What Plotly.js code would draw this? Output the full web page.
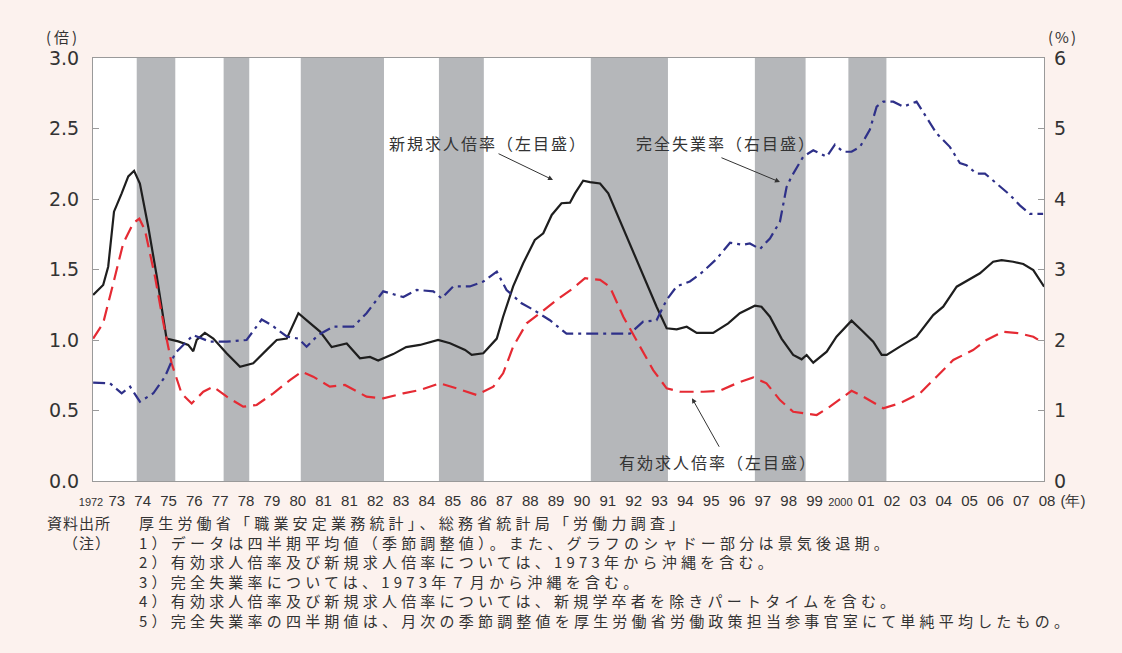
<!DOCTYPE html>
<html><head><meta charset="utf-8">
<script src="https://cdn.plot.ly/plotly-3.0.1.min.js"></script>
<style>html,body{margin:0;padding:0;background:#fcf2ee;}#chart{width:1122px;height:653px;}</style>
</head><body><div id="chart"></div>
<script>
// 新規求人倍率（左目盛）
const newT = [1972.13,1972.51,1972.70,1972.92,1973.21,1973.46,1973.68,1973.90,1974.22,1974.54,1974.91,1975.35,1975.73,1975.92,1976.05,1976.36,1976.68,1977.19,1977.69,1978.19,1978.70,1979.08,1979.46,1979.90,1980.34,1980.72,1981.16,1981.73,1982.23,1982.61,1982.92,1983.49,1983.98,1984.50,1985.19,1985.64,1986.21,1986.46,1986.90,1987.41,1987.65,1988.03,1988.41,1988.85,1989.17,1989.49,1989.86,1990.18,1990.37,1990.68,1990.94,1991.32,1991.63,1992.01,1992.58,1993.08,1993.46,1993.84,1994.22,1994.60,1994.98,1995.60,1996.17,1996.61,1997.18,1997.43,1997.75,1998.19,1998.63,1998.95,1999.14,1999.39,1999.90,2000.27,2000.84,2001.28,2001.66,2001.98,2002.17,2002.67,2003.30,2003.93,2004.31,2004.82,2005.26,2005.70,2006.20,2006.52,2006.96,2007.34,2007.72,2008.13];
const newV = [1.32,1.39,1.52,1.91,2.04,2.16,2.20,2.11,1.80,1.45,1.01,0.99,0.965,0.92,1.00,1.05,1.01,0.905,0.81,0.835,0.93,1.00,1.01,1.19,1.12,1.06,0.95,0.975,0.87,0.88,0.855,0.90,0.95,0.965,1.00,0.977,0.93,0.894,0.906,1.01,1.165,1.38,1.544,1.71,1.757,1.887,1.97,1.974,2.04,2.13,2.12,2.11,2.04,1.874,1.615,1.40,1.236,1.083,1.076,1.094,1.05,1.05,1.118,1.19,1.243,1.236,1.165,1.01,0.894,0.863,0.894,0.839,0.917,1.023,1.137,1.059,0.988,0.894,0.894,0.953,1.023,1.177,1.236,1.378,1.426,1.473,1.555,1.567,1.555,1.539,1.496,1.378];

// 有効求人倍率（左目盛）
const effT = [1972.13,1972.51,1972.89,1973.27,1973.65,1973.88,1974.09,1974.47,1974.79,1975.10,1975.48,1975.86,1976.30,1976.68,1977.19,1977.81,1978.32,1978.95,1979.58,1980.02,1980.46,1981.09,1981.66,1982.48,1983.11,1983.87,1984.50,1985.26,1985.89,1986.65,1987.28,1987.65,1988.03,1988.54,1989.04,1989.68,1990.30,1990.75,1991.32,1991.69,1992.20,1992.70,1993.33,1993.84,1994.35,1995.23,1995.86,1996.49,1997.12,1997.62,1998.13,1998.63,1999.52,2000.02,2000.84,2001.28,2002.04,2002.67,2003.43,2004.06,2004.69,2005.44,2005.95,2006.58,2007.21,2007.72,2008.13];
const effV = [1.01,1.12,1.40,1.686,1.83,1.86,1.78,1.45,1.12,0.835,0.62,0.55,0.633,0.669,0.598,0.527,0.539,0.622,0.716,0.775,0.74,0.669,0.681,0.598,0.586,0.622,0.645,0.693,0.657,0.61,0.669,0.764,0.953,1.118,1.19,1.284,1.367,1.438,1.426,1.378,1.165,1.0,0.787,0.657,0.633,0.633,0.64,0.693,0.735,0.693,0.574,0.491,0.468,0.527,0.64,0.598,0.516,0.551,0.622,0.74,0.858,0.929,1.0,1.059,1.047,1.023,0.977];

// 完全失業率（右目盛, %）
const unT = [1972.13,1972.77,1973.21,1973.53,1973.90,1974.41,1974.85,1975.23,1975.61,1975.92,1976.55,1977.19,1977.94,1978.51,1978.89,1979.46,1979.90,1980.21,1980.65,1981.22,1981.98,1982.48,1983.11,1983.87,1984.38,1985.01,1985.32,1985.76,1986.39,1986.90,1987.41,1987.78,1988.35,1988.79,1989.42,1990.05,1990.94,1992.45,1992.95,1993.46,1993.84,1994.22,1994.72,1995.22,1995.73,1996.24,1996.74,1996.99,1997.37,1997.75,1998.13,1998.38,1998.57,1999.01,1999.39,1999.90,2000.21,2000.52,2000.84,2001.16,2001.53,2001.79,2002.04,2002.42,2002.80,2003.30,2003.74,2004.06,2004.56,2004.94,2005.19,2005.57,2005.89,2006.33,2006.83,2007.21,2007.59,2008.09];
const unV = [1.394,1.386,1.244,1.338,1.125,1.244,1.48,1.81,1.953,2.07,1.976,1.976,2.0,2.29,2.21,2.05,2.02,1.905,2.07,2.19,2.19,2.38,2.69,2.61,2.71,2.69,2.59,2.76,2.76,2.83,2.97,2.71,2.52,2.43,2.28,2.09,2.09,2.09,2.26,2.28,2.57,2.76,2.83,2.97,3.15,3.38,3.35,3.37,3.29,3.44,3.68,4.17,4.32,4.6,4.69,4.6,4.77,4.67,4.67,4.74,4.98,5.31,5.38,5.38,5.31,5.38,5.12,4.93,4.74,4.51,4.48,4.36,4.36,4.22,4.06,3.91,3.79,3.79];

// 景気後退期（シャドー）
const recStart = [1973.78,1977.07,1979.99,1985.22,1990.97,1997.18,2000.72];
const recEnd   = [1975.24,1978.04,1983.14,1986.92,1993.89,1999.10,2002.16];

const xLabels = ['1972','73','74','75','76','77','78','79','80','81','81','82','83','84','85','86','87','88','89','90','91','92','93','94','95','96','97','98','99','2000','01','02','03','04','05','06','07','08','(年)'];
const yLeftTicks = [0,0.5,1,1.5,2,2.5,3];
const yRightTicks = [0,1,2,3,4,5,6];

const noteHead = ['資料出所','（注）'];
const notes = [
 '厚生労働省「職業安定業務統計」、総務省統計局「労働力調査」',
 '1）データは四半期平均値（季節調整値）。また、グラフのシャドー部分は景気後退期。',
 '2）有効求人倍率及び新規求人倍率については、1973年から沖縄を含む。',
 '3）完全失業率については、1973年７月から沖縄を含む。',
 '4）有効求人倍率及び新規求人倍率については、新規学卒者を除きパートタイムを含む。',
 '5）完全失業率の四半期値は、月次の季節調整値を厚生労働省労働政策担当参事官室にて単純平均したもの。'
];

// ---- layout geometry (pixels) ----
const W = 1122, H = 653, L = 93, R = 1044, T = 58, B = 481;
const labStart = 91, labStep = 25.84;
const px = v => v / W, py = v => 1 - v / H;
const CJK = '"Noto Sans CJK JP", "Noto Sans", sans-serif';
const NUM = '"DejaVu Sans", "Liberation Sans", sans-serif';
const NUMX = '"Liberation Sans", Arial, sans-serif';
const txtCol = '#333333';

const traces = [
 {x:newT, y:newV, mode:'lines', line:{color:'#1e1e1e', width:2.2}, hoverinfo:'skip'},
 {x:effT, y:effV, mode:'lines', line:{color:'#e52a33', width:2.2, dash:'14px,7px'}, hoverinfo:'skip'},
 {x:unT, y:unV, yaxis:'y2', mode:'lines', line:{color:'#2e3089', width:2.2, dash:'12px,5px,3px,5px'}, hoverinfo:'skip'},
 // carrier for the year-label axis (no visible marks)
 {x:xLabels.map((_,i)=>i), y:xLabels.map(()=>null), xaxis:'x2', yaxis:'y', mode:'lines', line:{width:0}, hoverinfo:'skip'}
];

const shapes = [{type:'rect', xref:'x domain', yref:'y domain', x0:0, x1:1, y0:0, y1:1, fillcolor:'#ffffff', line:{width:0}, layer:'below'}];
recStart.forEach((s,i)=>shapes.push({type:'rect', xref:'x', yref:'y domain', x0:s, x1:recEnd[i], y0:0, y1:1, fillcolor:'#b5b7ba', line:{width:0}, layer:'below'}));

const ls = (s,n) => '<span style="letter-spacing:'+n+'px">'+s+'</span>';
const annotations = [
 {xref:'paper', yref:'paper', x:px(63), y:py(37), xanchor:'center', yanchor:'middle', borderpad:0, text:ls('(倍)',3), showarrow:false, font:{family:CJK, size:15, color:txtCol}},
 {xref:'paper', yref:'paper', x:px(1063), y:py(37), xanchor:'center', yanchor:'middle', borderpad:0, text:ls('(%)',2), showarrow:false, font:{family:CJK, size:15, color:txtCol}},
 // series labels
 {xref:'x', yref:'y', x:1987.06, y:2.397, text:ls('新規求人倍率（左目盛）',2), showarrow:false, font:{family:CJK, size:16, color:txtCol}},
 {xref:'x', yref:'y', x:1996.10, y:2.397, text:ls('完全失業率（右目盛）',2), showarrow:false, font:{family:CJK, size:16, color:txtCol}},
 {xref:'x', yref:'y', x:1995.78, y:0.135, text:ls('有効求人倍率（左目盛）',2), showarrow:false, font:{family:CJK, size:16, color:txtCol}},
 // arrows
 {xref:'x', yref:'y', x:1989.54, y:2.135, ax:-56, ay:-27, text:'', showarrow:true, arrowhead:2, arrowsize:1, arrowwidth:1, arrowcolor:'#333'},
 {xref:'x', yref:'y', x:1998.13, y:2.12, ax:-60, ay:-25, text:'', showarrow:true, arrowhead:2, arrowsize:1, arrowwidth:1, arrowcolor:'#333'},
 {xref:'x', yref:'y', x:1994.80, y:0.587, ax:28, ay:50, text:'', showarrow:true, arrowhead:2, arrowsize:1, arrowwidth:1, arrowcolor:'#333'},
 // notes block (two columns, 6 lines)
 {xref:'paper', yref:'paper', x:px(113), y:py(510), xanchor:'right', yanchor:'top', align:'right', text:noteHead.map(s=>ls(s,1)).join('<br>'), showarrow:false, font:{family:CJK, size:15, color:txtCol}},
 {xref:'paper', yref:'paper', x:px(137), y:py(510), xanchor:'left', yanchor:'top', align:'left', text:notes.map(s=>ls(s,4.2)).join('<br>'), showarrow:false, font:{family:CJK, size:15, color:txtCol}}
];

const tickText = xLabels.map(s => s.length===4 ? '<span style="font-size:11px">'+s+'</span>' : s);

const layout = {
 width:W, height:H, margin:{l:0,r:0,t:0,b:0},
 paper_bgcolor:'#fcf2ee', plot_bgcolor:'rgba(0,0,0,0)',
 showlegend:false,
 xaxis:{domain:[px(L),px(R)], range:[1972.125,2008.125], showticklabels:false, ticks:'', showgrid:false, zeroline:false, showline:true, mirror:true, linecolor:'#9a9a9a', linewidth:1},
 xaxis2:{domain:[0,1], anchor:'y', side:'bottom', range:[(0-labStart)/labStep,(W-labStart)/labStep], tickmode:'array', tickvals:xLabels.map((_,i)=>i), ticktext:tickText, ticks:'', showgrid:false, zeroline:false, showline:false, tickfont:{family:NUMX, size:15, color:txtCol}, ticklabelstandoff:9},
 yaxis:{domain:[py(B),py(T)], range:[0,3], tickmode:'array', tickvals:yLeftTicks, tickformat:'.1f', ticks:'inside', ticklen:6, tickcolor:'#9a9a9a', showgrid:false, zeroline:false, showline:true, mirror:true, linecolor:'#9a9a9a', linewidth:1, tickfont:{family:NUM, size:19, color:txtCol}, ticklabelstandoff:9},
 yaxis2:{overlaying:'y', side:'right', range:[0,6], tickmode:'array', tickvals:yRightTicks, ticks:'inside', ticklen:6, tickcolor:'#9a9a9a', showgrid:false, zeroline:false, showline:false, tickfont:{family:NUM, size:19, color:txtCol}, ticklabelstandoff:9},
 shapes:shapes, annotations:annotations
};
Plotly.newPlot('chart', traces, layout, {staticPlot:true, displayModeBar:false});
</script></body></html>
